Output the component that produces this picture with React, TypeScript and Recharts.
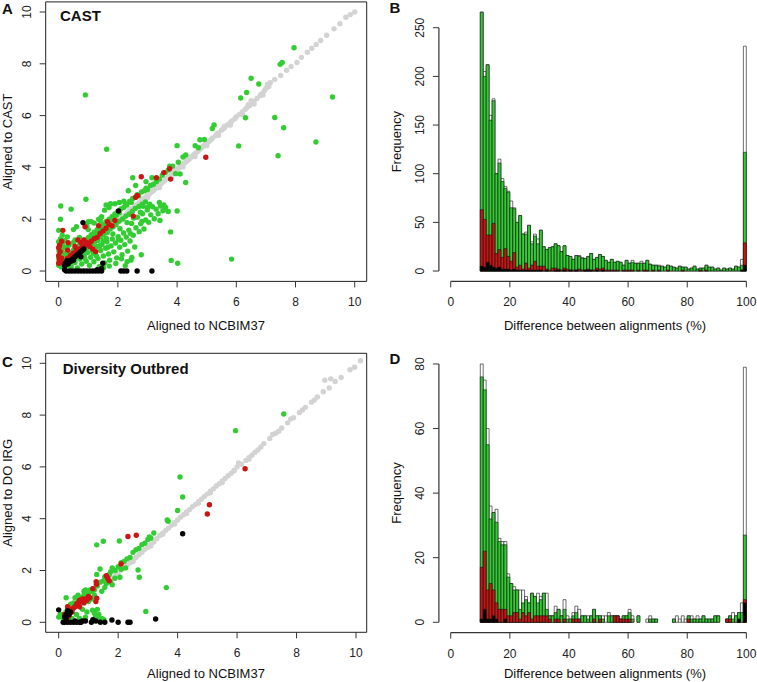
import React from 'react';
import { ScatterChart, Scatter, XAxis, YAxis, ReferenceArea, ComposedChart, Bar } from 'recharts';

const FONT = '"Liberation Sans", Arial, Helvetica, sans-serif';
const GREEN = '#32cd32';
const RED = '#cd1414';
const GREY = '#d3d3d3';
const BLACK = '#000000';
const AXIS = '#333333';

// ---------- Panel A (CAST) scatter data: [NCBIM37, CAST] ----------
const greyA: number[][] = [
  [1.8,1.72],[1.85,1.78],[1.9,1.81],[1.95,1.87],[2.0,1.93],[2.05,1.96],[2.1,2.03],[2.15,2.07],[2.2,2.12],[2.25,2.16],
  [2.3,2.22],[2.35,2.27],[2.4,2.31],[2.45,2.37],[2.5,2.42],[2.55,2.46],[2.6,2.52],[2.65,2.56],[2.7,2.62],[2.75,2.67],
  [2.8,2.71],[2.85,2.77],[2.9,2.82],[2.95,2.86],[3.0,2.92],[3.05,2.96],[3.1,3.02],[3.15,3.07],[3.2,3.11],[3.25,3.17],
  [3.3,3.22],[3.35,3.26],[3.4,3.32],[3.45,3.36],[3.5,3.42],[3.55,3.47],[3.6,3.51],[3.65,3.57],[3.7,3.62],[3.75,3.66],
  [3.8,3.72],[3.85,3.77],[3.9,3.81],[3.95,3.87],[4.0,3.92],[4.05,3.97],[4.1,4.02],[4.15,4.07],[4.2,4.12],[4.25,4.17],
  [4.3,4.22],[4.35,4.27],[4.4,4.32],[4.45,4.37],[4.5,4.42],[4.55,4.48],[4.6,4.52],[4.65,4.58],[4.7,4.62],[4.75,4.68],
  [4.8,4.73],[4.85,4.78],[4.9,4.83],[4.95,4.88],[5.0,4.93],[5.05,4.98],[5.1,5.03],[5.15,5.08],[5.2,5.14],[5.3,5.22],
  [5.35,5.29],[5.4,5.33],[5.5,5.44],[5.55,5.49],[5.6,5.53],[5.7,5.64],[5.8,5.73],[5.85,5.79],[5.95,5.88],[6.0,5.96],
  [6.1,6.04],[6.2,6.14],[6.3,6.24],[6.35,6.3],[6.45,6.38],[6.55,6.5],[6.6,6.56],[6.7,6.66],[6.8,6.77],[6.85,6.84],
  [6.95,6.96],[7.0,7.05],[7.05,7.2],[7.15,7.28],[7.3,7.4],[7.5,7.55],[7.7,7.75],[7.85,7.9],[8.05,8.05],[8.2,8.25],
  [8.4,8.45],[8.55,8.6],[8.7,8.75],[8.85,8.9],[9.05,9.1],[9.3,9.35],[9.5,9.55],[9.7,9.8],[9.85,9.9],[10.0,10.0],
  [2.2,2.02],[2.6,2.42],[3.0,2.83],[3.4,3.22],[3.8,3.62],[4.2,4.02],[4.6,4.42],[5.0,4.84],[5.4,5.24],[5.8,5.64],
  [6.2,6.05],[6.6,6.45],[6.4,6.42],[6.9,6.8],[2.4,2.4],[3.2,3.2],[4.4,4.4],[5.6,5.58],[6.5,6.58],[7.1,7.12],
];
const greenA: number[][] = [
  [0.05,0.25],[0.1,0.35],[0.15,0.4],[0.2,0.5],[0.25,0.45],[0.3,0.6],[0.35,0.55],[0.4,0.7],[0.45,0.65],[0.5,0.8],
  [0.55,0.75],[0.6,0.9],[0.65,0.85],[0.7,1.0],[0.75,0.95],[0.8,1.1],[0.85,1.05],[0.9,1.2],[0.95,1.15],[1.0,1.3],
  [1.05,1.2],[1.1,1.4],[1.15,1.35],[1.2,1.5],[1.25,1.45],[1.3,1.6],[1.35,1.5],[1.4,1.7],[1.45,1.65],[1.5,1.8],
  [1.55,1.75],[1.6,1.9],[1.65,1.85],[1.7,2.0],[1.75,1.95],[1.8,2.1],[1.85,2.05],[1.9,2.2],[1.95,2.15],[2.0,2.3],
  [2.05,2.25],[2.1,2.4],[2.2,2.45],[2.25,2.6],[2.3,2.55],[2.4,2.7],[2.45,2.65],[2.5,2.8],[2.6,2.85],[2.65,2.95],
  [2.7,2.9],[2.8,3.05],[2.9,3.1],[2.95,3.2],[3.0,3.15],[3.1,3.3],[3.2,3.35],[3.3,3.45],[3.4,3.55],[3.5,3.7],
  [3.6,3.8],[3.7,3.9],[3.75,4.05],[3.85,4.05],
  [1.2,1.85],[1.35,2.0],[1.55,2.35],[1.75,2.6],[1.9,2.6],[2.05,2.65],[2.2,2.7],[1.6,2.55],[1.45,2.1],[1.1,1.9],
  [0.95,1.75],[1.0,1.6],[0.7,1.3],[0.55,1.2],[0.35,1.0],[0.25,0.9],[0.5,1.1],[2.35,3.1],[2.6,3.3],[2.95,3.45],[3.15,3.6],
  [0.0,0.22],[0.02,0.37],[0.0,0.52],[0.04,0.63],[0.01,0.78],[0.03,0.91],[0.08,1.02],[0.0,1.13],[0.06,1.24],[0.11,0.83],
  [0.13,1.07],[0.16,0.68],[0.21,1.18],[0.18,0.27],[0.09,0.16],[0.26,0.21],[0.14,0.49],[0.23,0.58],[0.07,0.71],[0.19,0.93],
  [0.29,1.32],[0.12,1.38],
  [0.42,0.18],[0.55,0.33],[0.63,0.12],[0.71,0.46],[0.78,0.27],[0.86,0.61],[0.93,0.38],[0.97,0.72],[1.04,0.22],[1.08,0.53],
  [1.13,0.81],[1.19,0.36],[1.23,0.67],[1.28,0.94],[1.33,0.48],[1.37,0.17],[1.42,0.79],[1.46,1.02],[1.51,0.58],[1.56,0.31],
  [1.59,0.88],[1.63,1.13],[1.68,0.66],[1.72,0.42],[1.77,0.97],[1.81,1.24],[1.86,0.74],[1.92,1.08],[1.96,0.51],[2.01,1.33],
  [2.06,0.92],[2.1,1.19],[2.14,0.63],[2.19,1.47],[2.23,1.02],[2.28,1.31],[2.33,0.77],[2.37,1.58],[2.41,1.16],[2.46,1.84],
  [2.52,1.38],[2.57,0.93],[2.61,1.67],[2.66,2.08],[2.72,1.52],[2.77,1.83],[2.83,2.21],[2.88,1.62],[2.94,1.97],[2.99,2.36],
  [3.04,1.88],[3.11,2.17],[3.17,2.48],[3.23,2.02],[3.29,2.39],[3.36,2.21],[3.44,2.51],[3.52,2.33],[3.61,2.45],[3.42,1.95],
  [0.33,0.22],[0.48,0.41],[0.58,0.52],[0.69,0.61],[0.81,0.73],[0.92,0.86],[1.01,0.93],[1.12,1.03],[1.21,1.12],[1.32,1.18],
  [1.43,1.31],[1.53,1.42],[1.64,1.49],[1.74,1.62],[1.84,1.71],[1.94,1.79],[2.04,1.92],[2.16,2.01],[2.27,2.12],[2.38,2.19],
  [2.49,2.31],[2.59,2.42],[2.71,2.49],[2.82,2.58],[2.93,2.67],[1.16,0.71],[1.39,0.98],[1.61,1.26],[1.83,1.43],[2.07,1.63],
  [2.31,1.87],[2.53,2.05],[2.76,2.27],[0.88,0.49],[1.27,0.59],[1.66,0.92],[2.02,1.21],[2.42,1.45],[2.81,1.91],[3.08,2.58],
  [1.71,0.19],[1.93,0.29],[2.12,0.47],[2.31,0.36],[2.47,0.52],[2.79,0.63],[2.44,0.42],[1.52,0.13],[2.25,0.21],
  [0.9,6.8],[1.62,4.7],[7.95,8.62],[7.55,8.05],[7.48,7.98],[6.5,7.44],[6.76,7.22],[6.35,6.89],[6.15,6.68],[9.25,6.72],
  [7.3,5.93],[6.31,5.92],[7.6,5.53],[6.08,4.83],[8.69,4.98],[7.41,4.45],[5.84,0.46],[5.25,5.64],[5.19,5.5],[4.77,5.07],
  [4.92,5.08],[4.61,4.84],[4.72,4.76],[4.0,4.84],[4.29,4.48],[4.2,4.4],[4.04,4.2],[3.95,3.76],[4.1,3.75],[4.29,3.42],
  [3.6,2.39],[4.0,2.32],[3.78,1.51],[3.8,0.41],[4.02,0.3],[3.4,2.65],[0.07,2.51],[0.06,2.0],[0.42,2.39],[0.92,2.77],
  [0.0,1.57],[0.6,1.71],[2.5,3.6],[1.0,1.9],[1.4,1.95],[0.5,1.6],[1.7,2.45],[3.0,2.45],[2.85,2.5],
  [3.55,2.55],[3.7,2.3],[1.5,1.15],
];
const redA: number[][] = [
  [0.0,0.3],[0.02,0.45],[0.0,0.6],[0.05,0.75],[0.0,0.9],[0.03,1.0],[0.05,0.35],[0.1,0.5],[0.15,0.3],[0.2,0.25],
  [0.25,0.35],[0.3,0.5],[0.35,0.45],[0.4,0.6],[0.45,0.55],[0.5,0.7],[0.55,0.65],[0.6,0.8],[0.65,0.75],[0.7,0.85],
  [0.8,0.95],[0.9,1.0],[1.0,1.05],[1.1,1.15],[1.2,1.25],[1.3,1.3],[1.4,1.45],[1.5,1.55],[1.6,1.65],[1.7,1.8],
  [1.8,1.75],[1.9,1.95],[0.85,1.2],[0.95,1.1],[1.05,0.95],[1.15,0.85],[0.75,1.1],[0.65,1.2],[1.25,0.75],[0.3,0.8],
  [0.14,1.57],[0.89,1.71],[0.32,1.09],[2.79,3.64],[2.52,2.12],[2.6,2.85],[2.66,2.92],[3.3,3.6],[3.55,3.8],[3.75,3.95],
  [3.78,3.55],[4.97,4.39],[1.65,1.9],[1.35,1.75],[0.1,1.15],[0.55,0.95],
];
const blackA: number[][] = [
  [0.2,0.2],[0.25,0.25],[0.3,0.3],[0.35,0.35],[0.4,0.4],[0.45,0.45],[0.5,0.5],[0.55,0.55],[0.6,0.6],[0.65,0.65],
  [0.7,0.7],[0.75,0.75],[0.8,0.8],[0.85,0.85],[0.22,0.3],[0.32,0.28],[0.42,0.38],[0.5,0.42],[0.28,0.4],
  [0.25,0],[0.35,0],[0.45,0],[0.55,0],[0.65,0],[0.75,0],[0.85,0],[0.95,0],[1.05,0],[1.15,0],
  [1.25,0],[1.35,0],[1.45,0],[2.1,0],[2.2,0],[2.3,0],[2.65,0],[3.15,0],
  [0.82,1.87],[2.02,2.32],[1.49,0.3],[0.75,0.55],[1.45,0.1],[0.2,0.05],[1.3,0.05],
];

// ---------- Panel C (Diversity Outbred) scatter data: [NCBIM37, DO IRG] ----------
const greyC: number[][] = [
  [1.6,1.5],[1.7,1.62],[1.8,1.7],[1.9,1.81],[2.0,1.9],[2.1,2.02],[2.2,2.1],[2.3,2.21],[2.4,2.3],[2.5,2.41],
  [2.6,2.5],[2.7,2.61],[2.8,2.7],[2.9,2.82],[3.0,2.9],[3.1,3.02],[3.2,3.1],[3.3,3.23],[3.4,3.35],[3.5,3.44],
  [3.6,3.55],[3.7,3.64],[3.8,3.75],[3.9,3.85],[4.0,3.95],[4.1,4.06],[4.2,4.15],[4.3,4.26],[4.4,4.35],[4.5,4.46],
  [4.6,4.55],[4.7,4.66],[4.8,4.75],[4.9,4.86],[5.0,4.95],[5.1,5.06],[5.2,5.15],[5.3,5.26],[5.4,5.35],[5.5,5.46],
  [5.6,5.55],[5.7,5.66],[5.8,5.75],[5.9,5.86],[6.0,6.0],[6.15,6.1],[6.3,6.25],[6.4,6.36],[6.5,6.45],[6.6,6.56],
  [6.7,6.65],[6.8,6.77],[6.9,6.9],[7.1,7.1],[7.3,7.3],[7.5,7.5],[7.7,7.7],[7.9,7.9],[8.1,8.1],[8.3,8.3],
  [8.5,8.5],[8.7,8.7],[8.9,8.9],[9.1,9.05],[9.3,9.3],[9.5,9.45],[9.8,9.75],[9.95,9.85],[10.15,10.1],
  [2.5,2.35],[3.1,2.95],[3.5,3.4],[3.9,3.8],[4.3,4.2],[4.7,4.6],[5.1,5.0],[5.5,5.4],[5.9,5.85],[6.4,6.3],
  [6.05,6.15],[8.95,9.35],[9.15,9.4],[7.2,7.25],[7.8,7.85],[7.4,7.38],[8.2,8.2],[8.6,8.58],
];
const greenC: number[][] = [
  [0.1,0.2],[0.15,0.3],[0.2,0.25],[0.25,0.4],[0.3,0.35],[0.35,0.5],[0.4,0.45],[0.45,0.6],[0.5,0.55],[0.55,0.7],
  [0.6,0.65],[0.65,0.8],[0.7,0.75],[0.75,0.95],[0.8,0.9],[0.85,1.05],[0.9,1.0],[0.95,1.15],[1.0,1.1],[1.05,1.25],
  [1.1,1.2],[1.15,1.3],[1.2,1.25],[1.3,1.4],[1.4,1.55],[1.5,1.6],[1.55,1.75],[1.6,1.7],[1.7,1.85],[1.75,1.95],
  [1.8,2.1],[1.9,2.0],[2.0,2.15],[2.1,2.3],[2.2,2.35],[2.3,2.45],[2.4,2.5],[2.5,2.7],[2.6,2.8],[2.7,2.85],
  [2.8,3.0],[2.9,3.05],[3.0,3.2],[3.1,3.25],[3.2,3.45],[3.65,3.95],[3.68,3.9],[4.0,4.32],
  [7.57,8.04],[5.95,7.4],[4.08,5.61],[4.17,4.84],[1.28,2.99],[1.5,3.13],[2.04,3.14],[2.67,2.02],[2.71,1.74],[2.06,1.74],
  [1.89,1.7],[3.62,1.34],[2.93,0.42],[1.39,2.06],[1.28,1.85],[1.3,0.5],[1.25,0.25],[1.35,0.3],[1.45,0.15],[1.52,0.1],
  [1.2,0.35],[0.25,0.95],[0.0,0.2],[0.05,0.3],[0.3,0.6],[0.4,0.7],[0.5,0.75],[0.55,0.95],[0.65,1.05],[0.85,1.2],
  [0.9,1.25],[1.0,1.2],[1.1,0.9],[1.2,1.05],[0.8,0.5],[0.9,0.2],[0.7,0.15],[0.6,0.3],[0.45,0.15],[0.35,0.1],
  [0.2,0.05],[1.3,0.15],[0.95,0.4],[1.0,0.8],[1.55,1.35],[1.6,1.5],[1.45,1.2],[1.75,1.55],[1.8,1.45],[2.1,2.05],
  [2.25,2.1],[3.05,3.3],[1.14,0.47],[1.25,0.22],
];
const redC: number[][] = [
  [6.27,5.93],[5.07,4.54],[5.0,4.18],[2.33,3.31],[2.61,3.36],[2.1,2.25],[1.6,1.8],[1.65,1.7],[1.7,1.6],[1.26,1.57],
  [1.27,1.47],[1.15,1.3],[1.0,1.0],[0.8,0.9],[0.7,0.85],[0.6,0.7],[0.5,0.55],[0.4,0.5],[0.3,0.6],[1.28,0.93],
  [1.25,0.8],[1.05,0.95],[0.9,0.9],[0.75,0.8],[0.65,0.75],[0.55,0.6],[0.3,0.2],[0.2,0.3],[0.45,0.4],[0.85,0.75],
  [0.95,0.85],[0.35,0.25],[0.7,0.6],
];
const blackC: number[][] = [
  [4.17,3.42],[3.26,0.13],[1.79,0.09],[2.0,0],[2.33,0],[2.4,0],[1.55,0],[1.4,0],[1.25,0.05],[1.1,0],
  [0.9,0.05],[0.75,0],[0.7,0],[0.6,0],[0.5,0],[0.4,0],[0.3,0],[0.2,0],[0.15,0],[0.0,0.48],
  [0.3,0.45],[0.3,0.35],[0.25,0.3],[0.35,0.3],[0.2,0.2],[0.4,0.4],[0.25,0.15],[0.8,0.05],[1.15,0.1],[0.55,0.05],
];

// ---------- Histogram bins: 10..99 (% difference), width 1 ----------
const binStarts: number[] = [
  10,11,12,13,14,15,16,17,18,19,20,21,22,23,24,25,26,27,28,29,
  30,31,32,33,34,35,36,37,38,39,40,41,42,43,44,45,46,47,48,49,
  50,51,52,53,54,55,56,57,58,59,60,61,62,63,64,65,66,67,68,69,
  70,71,72,73,74,75,76,77,78,79,80,81,82,83,84,85,86,87,88,89,
  90,91,92,93,94,95,96,97,98,99,
];

const totalB = [266,205,212,160,177,100,115,95,87,82, 72,65,50,57,38,40,47,30,38,33, 42,25,22,24,25,28,26,20,26,16, 15,12,16,16,14,13,15,18,12,14, 17,15,11,9,12,9,10,9,6,11, 8,11,8,8,10,8,11,7,6,6, 6,5,4,6,5,4,3,5,4,4, 2,3,5,2,3,3,6,4,4,2, 3,1,3,2,3,2,5,4,12,231];
const greenB = [266,200,212,155,175,100,111,92,85,81, 65,64,50,57,38,38,47,28,36,28, 42,25,22,24,25,28,26,20,26,16, 15,12,16,15,13,13,15,18,12,14, 17,15,11,9,12,9,10,9,6,11, 8,9,8,8,8,8,11,7,6,6, 5,5,4,6,5,4,3,5,4,4, 2,3,5,2,3,3,6,4,4,2, 3,1,3,2,3,2,5,4,6,122];
const redB = [63,53,37,37,49,18,22,14,23,15, 10,19,4,6,2,8,3,6,10,5, 5,5,2,1,3,3,2,1,3,2, 1,1,1,2,1,1,2,1,1,3, 2,3,1,1,1,1,1,0,1,1, 1,1,0,1,0,1,1,0,1,0, 1,0,0,1,0,0,0,0,1,0, 0,0,0,0,1,0,1,0,0,0, 0,0,0,0,0,0,0,0,1,29];
const blackB = [5,4,9,6,4,3,4,2,2,2, 1,2,1,1,1,1,1,1,1,1, 1,0,1,0,0,1,1,0,1,0, 1,0,1,0,0,1,1,1,0,1, 0,1,0,0,0,0,0,0,0,0, 0,0,0,0,0,0,0,0,0,0, 0,0,0,0,0,0,0,0,0,0, 0,0,0,0,0,0,0,0,0,0, 0,0,0,0,0,0,0,0,1,6];

const totalD = [80,75,60,36,34,35,26,25,25,15, 12,11,10,10,10,8,6,9,8,9, 8,9,9,2,2,5,4,2,7,2, 1,3,5,4,2,2,2,2,4,2, 2,2,2,3,2,2,2,1,2,2, 4,2,0,2,0,0,1,2,1,1, 0,0,0,0,0,1,2,1,2,1, 2,2,1,2,1,2,1,1,1,2, 2,0,0,1,2,3,2,3,6,79];
const greenD = [76,72,55,32,34,31,25,24,24,14, 12,10,10,4,6,7,6,9,8,6, 7,9,4,2,2,3,4,2,4,1, 1,2,3,1,2,2,1,2,4,2, 2,1,0,2,2,2,2,1,2,2, 3,1,0,2,0,0,0,1,1,1, 0,0,0,0,0,1,0,0,0,0, 2,1,1,1,1,2,1,1,1,2, 2,0,0,1,2,1,2,3,3,27];
const redD = [17,22,10,12,10,6,4,4,4,2, 2,3,3,1,3,2,3,1,2,2, 2,2,2,1,0,1,1,0,1,0, 0,1,1,1,0,0,0,0,1,0, 1,0,0,0,0,2,2,1,1,1, 1,0,0,0,0,0,0,0,0,0, 0,0,0,0,0,0,0,0,0,0, 1,0,0,0,0,0,0,0,0,0, 0,0,0,1,1,0,0,1,0,7];
const blackD = [1,4,1,1,2,1,0,0,1,0, 0,0,0,0,0,0,0,0,0,0, 0,0,0,0,0,0,0,0,0,0, 0,0,0,0,0,0,0,0,0,0, 0,0,0,0,0,0,0,0,0,0, 0,0,0,0,0,0,0,0,0,0, 0,0,0,0,0,0,0,0,0,0, 0,0,0,0,0,0,0,0,0,0, 0,0,0,0,0,0,0,1,0,6];

// ---------- tick labels ----------
const scatterTicks = [0, 2, 4, 6, 8, 10];
const histXTicks = [0, 20, 40, 60, 80, 100];
const histBYTicks = [0, 50, 100, 150, 200, 250];
const histDYTicks = [0, 20, 40, 60, 80];
const HIST_X_DOMAIN = [-4, 101];

const toPts = (arr: number[][]) => arr.map(([x, y]) => ({ x, y }));
const toBins = (t: number[], g: number[], r: number[], k: number[]) =>
  binStarts.map((b, i) => ({ x: b + 0.5, total: t[i], green: g[i], red: r[i], black: k[i] }));

const dataB = toBins(totalB, greenB, redB, blackB);
const dataD = toBins(totalD, greenD, redD, blackD);

const XTick = (props: any) => {
  const { x, y, payload } = props;
  return (
    <text x={x} y={y + 17} textAnchor="middle" fontSize={12} fontFamily={FONT} fill="#222">
      {payload.value}
    </text>
  );
};
const YTick = (props: any) => {
  const { x, y, payload } = props;
  const bx = x - 6.5;
  return (
    <text x={bx} y={y} transform={`rotate(-90 ${bx} ${y})`} textAnchor="middle" fontSize={12} fontFamily={FONT} fill="#222">
      {payload.value}
    </text>
  );
};

const dot = (color: string) => (p: any) => <circle cx={p.cx} cy={p.cy} r={2.7} fill={color} stroke="none" />;
const noDot = () => <g />;

function ScatterPanel(props: {
  grey: number[][]; green: number[][]; red: number[][]; black: number[][];
  height: number; top: number; bottom: number; xDom: number[]; yDom: number[];
}) {
  const { height, top, bottom, xDom, yDom } = props;
  return (
    <ScatterChart width={380} height={height} margin={{ top, right: 13.3, bottom: height - bottom - 40, left: 5.7 }}>
      <XAxis type="number" dataKey="x" domain={xDom} ticks={scatterTicks} interval={0} height={40}
        axisLine={false} tickSize={6} stroke={AXIS} tick={<XTick />} />
      <YAxis type="number" dataKey="y" domain={yDom} ticks={scatterTicks} interval={0} width={40}
        axisLine={false} tickSize={6} stroke={AXIS} tick={<YTick />} />
      <Scatter data={toPts(props.grey)} shape={dot(GREY)} isAnimationActive={false} />
      <Scatter data={toPts(props.green)} shape={dot(GREEN)} isAnimationActive={false} />
      <Scatter data={toPts(props.red)} shape={dot(RED)} isAnimationActive={false} />
      <Scatter data={toPts(props.black)} shape={dot(BLACK)} isAnimationActive={false} />
      <ReferenceArea x1={xDom[0]} x2={xDom[1]} y1={yDom[0]} y2={yDom[1]} fill="none" fillOpacity={0}
        stroke="#222" strokeWidth={1} ifOverflow="visible" />
    </ScatterChart>
  );
}

function HistPanel(props: { data: any[]; height: number; top: number; bottom: number; yDom: number[]; yTicks: number[] }) {
  const { data, height, top, bottom, yDom, yTicks } = props;
  const bw = 2.9;
  const yTop = yTicks[yTicks.length - 1];
  const xAxisLine = [{ x: histXTicks[0], y: yDom[0] }, { x: histXTicks[histXTicks.length - 1], y: yDom[0] }];
  const yAxisLine = [{ x: HIST_X_DOMAIN[0], y: yTicks[0] }, { x: HIST_X_DOMAIN[0], y: yTop }];
  return (
    <ComposedChart width={379} height={height} data={data} barSize={bw} barGap={-bw} barCategoryGap={0}
      margin={{ top, right: 7.7, bottom: height - bottom - 40, left: 20.9 }}>
      <XAxis type="number" dataKey="x" domain={HIST_X_DOMAIN} ticks={histXTicks} interval={0} height={40}
        axisLine={false} tickSize={6} stroke={AXIS} tick={<XTick />} />
      <YAxis type="number" domain={yDom} ticks={yTicks} interval={0} width={40}
        axisLine={false} tickSize={6} stroke={AXIS} tick={<YTick />} />
      <XAxis xAxisId="axl" type="number" dataKey="x" domain={HIST_X_DOMAIN} hide />
      <YAxis yAxisId="axl" type="number" dataKey="y" domain={yDom} hide />
      <Bar dataKey="total" fill="#ffffff" stroke="#111" strokeWidth={0.6} isAnimationActive={false} />
      <Bar dataKey="green" fill={GREEN} stroke="#111" strokeWidth={0.6} isAnimationActive={false} />
      <Bar dataKey="red" fill={RED} stroke="#111" strokeWidth={0.6} isAnimationActive={false} />
      <Bar dataKey="black" fill={BLACK} stroke="#111" strokeWidth={0.6} isAnimationActive={false} />
      {/* R-style axis lines spanning only the tick range */}
      <Scatter xAxisId="axl" yAxisId="axl" data={xAxisLine} fill={AXIS} line={{ stroke: AXIS, strokeWidth: 1.2 }} shape={noDot} isAnimationActive={false} />
      <Scatter xAxisId="axl" yAxisId="axl" data={yAxisLine} fill={AXIS} line={{ stroke: AXIS, strokeWidth: 1.2 }} shape={noDot} isAnimationActive={false} />
    </ComposedChart>
  );
}

export default function App() {
  const t = { fontFamily: FONT, fill: '#111' } as const;
  return (
    <div style={{ position: 'absolute', left: 0, top: 0, width: 757, height: 682, background: '#fff', fontFamily: FONT }}>
      <div style={{ position: 'absolute', left: 0, top: 0 }}>
        <ScatterPanel grey={greyA} green={greenA} red={redA} black={blackA} height={340} top={1.9} bottom={281.4}
          xDom={[-0.439, 10.405]} yDom={[-0.4, 10.39]} />
      </div>
      <div style={{ position: 'absolute', left: 0, top: 340 }}>
        <ScatterPanel grey={greyC} green={greenC} red={redC} black={blackC} height={342} top={13.3} bottom={292.3}
          xDom={[-0.437, 10.36]} yDom={[-0.386, 10.386]} />
      </div>
      <div style={{ position: 'absolute', left: 378, top: 0 }}>
        <HistPanel data={dataB} height={340} top={1.8} bottom={281.4} yDom={[-10.64, 276.64]} yTicks={histBYTicks} />
      </div>
      <div style={{ position: 'absolute', left: 378, top: 340 }}>
        <HistPanel data={dataD} height={342} top={13.65} bottom={292.6} yDom={[-3.2, 83.2]} yTicks={histDYTicks} />
      </div>
      <svg width={757} height={682} style={{ position: 'absolute', left: 0, top: 0, pointerEvents: 'none' }}>
        <text x={2} y={14} fontSize={15} fontWeight="bold" {...t}>A</text>
        <text x={389.5} y={13} fontSize={15} fontWeight="bold" {...t}>B</text>
        <text x={2} y={367} fontSize={15} fontWeight="bold" {...t}>C</text>
        <text x={389.5} y={364} fontSize={15} fontWeight="bold" {...t}>D</text>
        <text x={60} y={20.5} fontSize={15} fontWeight="bold" {...t}>CAST</text>
        <text x={62.7} y={374} fontSize={15} fontWeight="bold" {...t}>Diversity Outbred</text>
        <text x={206} y={329.5} fontSize={13} textAnchor="middle" {...t}>Aligned to NCBIM37</text>
        <text x={206} y={678} fontSize={13} textAnchor="middle" {...t}>Aligned to NCBIM37</text>
        <text x={605} y={329.5} fontSize={13} textAnchor="middle" {...t}>Difference between alignments (%)</text>
        <text x={605} y={678} fontSize={13} textAnchor="middle" {...t}>Difference between alignments (%)</text>
        <text x={12.2} y={141.6} fontSize={13} textAnchor="middle" transform="rotate(-90 12.2 141.6)" {...t}>Aligned to CAST</text>
        <text x={12.2} y={492.8} fontSize={13} textAnchor="middle" transform="rotate(-90 12.2 492.8)" {...t}>Aligned to DO IRG</text>
        <text x={401} y={141.6} fontSize={13} textAnchor="middle" transform="rotate(-90 401 141.6)" {...t}>Frequency</text>
        <text x={401} y={493} fontSize={13} textAnchor="middle" transform="rotate(-90 401 493)" {...t}>Frequency</text>
      </svg>
    </div>
  );
}
